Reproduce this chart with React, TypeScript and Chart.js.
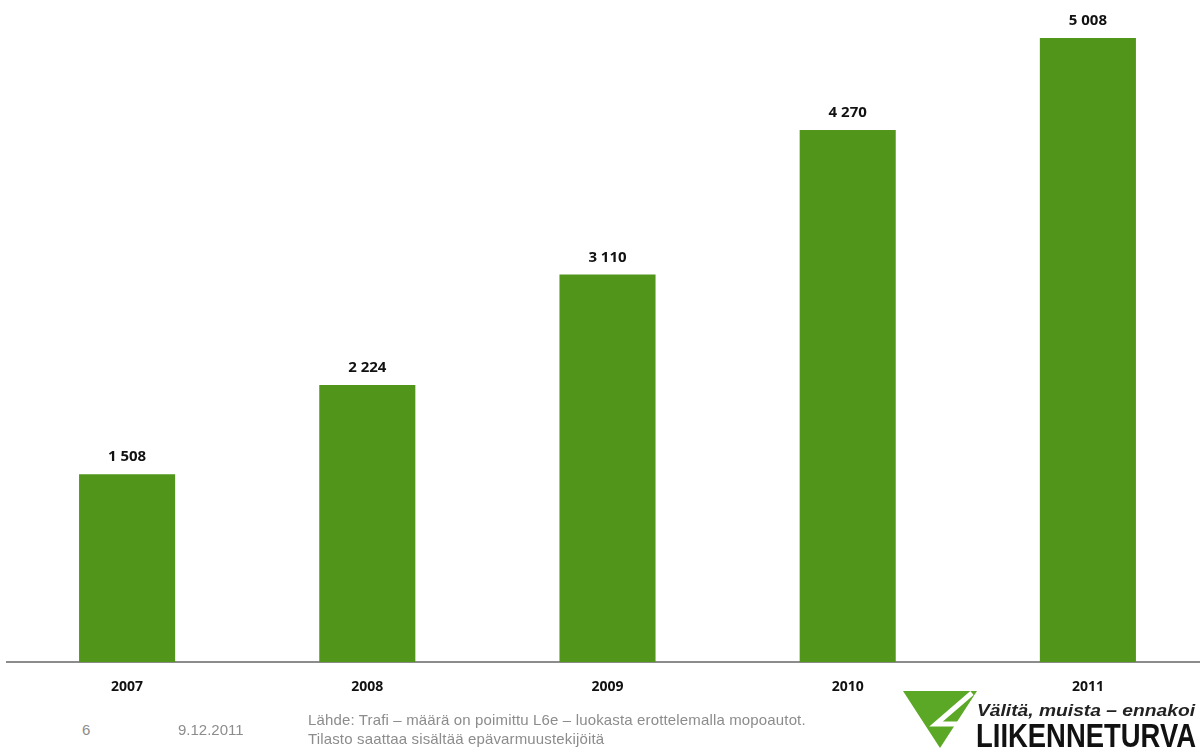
import React, { useEffect, useRef } from "react";
import { Chart, registerables } from "chart.js";

Chart.register(...registerables);

const categories = ["2007", "2008", "2009", "2010", "2011"];
const values = [1508, 2224, 3110, 4270, 5008];
const yMax = 5200;

const fmt = (v: number) => String(v).replace(/\B(?=(\d{3})+(?!\d))/g, " ");

const labelPlugin = {
  id: "barLabels",
  afterDatasetsDraw(chart: any) {
    const ctx = chart.ctx;
    const meta = chart.getDatasetMeta(0);
    ctx.save();
    ctx.font = "bold 15px 'Open Sans', sans-serif";
    ctx.fillStyle = "#111";
    ctx.textAlign = "center";
    ctx.textBaseline = "middle";
    meta.data.forEach((el: any, i: number) => {
      ctx.fillText(fmt(values[i]), el.x, el.y - 17);
    });
    ctx.restore();
  },
};

export default function App() {
  const ref = useRef<HTMLCanvasElement | null>(null);
  useEffect(() => {
    if (!ref.current) return;
    const chart = new Chart(ref.current, {
      type: "bar",
      data: {
        labels: categories,
        datasets: [
          {
            data: values,
            backgroundColor: "#51961B",
            barPercentage: 0.8,
            categoryPercentage: 0.5,
          },
        ],
      },
      options: {
        animation: false,
        responsive: false,
        devicePixelRatio: 1,
        layout: { padding: { left: 7, right: 2, top: 14, bottom: 6 } },
        plugins: { legend: { display: false }, tooltip: { enabled: false } },
        scales: {
          x: {
            grid: { display: false, drawTicks: false },
            border: { display: true, color: "#8C8C8C", width: 2 },
            ticks: {
              color: "#111",
              padding: 16,
              font: { family: "'Open Sans', sans-serif", weight: "bold", size: 14 },
            },
          },
          y: { display: false, min: 0, max: yMax },
        },
      },
      plugins: [labelPlugin],
    });
    return () => chart.destroy();
  }, []);

  const gray = "#8C8C8C";
  return (
    <div
      style={{
        position: "absolute",
        left: 0,
        top: 0,
        width: 1200,
        height: 748,
        overflow: "hidden",
        background: "#fff",
        fontFamily: "'Liberation Sans', Arial, sans-serif",
      }}
    >
      <canvas ref={ref} width={1210} height={717} style={{ position: "absolute", left: 0, top: 0 }} />
      <div style={{ position: "absolute", left: 82, top: 721, fontSize: 15, color: gray }}>6</div>
      <div style={{ position: "absolute", left: 178, top: 721, fontSize: 15, color: gray }}>9.12.2011</div>
      <div
        style={{
          position: "absolute",
          left: 308,
          top: 710,
          fontSize: 15,
          lineHeight: "19px",
          color: gray,
          letterSpacing: "0.15px",
          whiteSpace: "nowrap",
        }}
      >
        Lähde: Trafi – määrä on poimittu L6e – luokasta erottelemalla mopoautot.
        <br />
        Tilasto saattaa sisältää epävarmuustekijöitä
      </div>
      <svg
        width={300}
        height={68}
        viewBox="0 0 300 68"
        style={{ position: "absolute", left: 900, top: 680 }}
      >
        <polygon points="3,11 77,11 40,68" fill="#5BA826" />
        <polyline points="72,13 36,44 60,44" fill="none" stroke="#fff" strokeWidth={5} />
        <text
          x={77}
          y={36}
          fontFamily="'Liberation Sans', Arial, sans-serif"
          fontStyle="italic"
          fontWeight="bold"
          fontSize={17}
          fill="#222"
          textLength={218}
          lengthAdjust="spacingAndGlyphs"
        >
          Välitä, muista – ennakoi
        </text>
        <text
          x={76}
          y={67}
          fontFamily="'Liberation Sans Narrow', 'Liberation Sans', Arial, sans-serif"
          fontWeight="bold"
          fontSize={33}
          fill="#111"
          textLength={220}
          lengthAdjust="spacingAndGlyphs"
        >
          LIIKENNETURVA
        </text>
      </svg>
    </div>
  );
}
